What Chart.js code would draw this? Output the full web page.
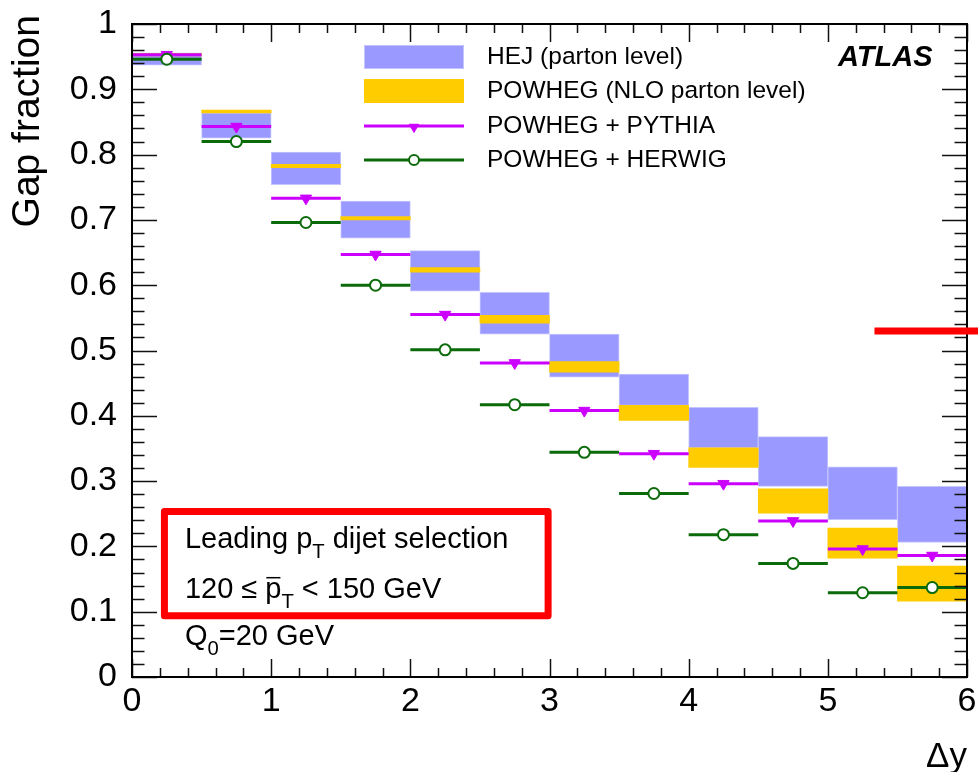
<!DOCTYPE html>
<html>
<head>
<meta charset="utf-8">
<script src="https://cdn.jsdelivr.net/npm/chart.js@4.4.1/dist/chart.umd.min.js"></script>
<style>
  html, body { margin: 0; padding: 0; background: #fff; }
</style>
</head>
<body>
<canvas id="gapChart" width="978" height="772"></canvas>
<script>
// bins in delta y
const binLow  = [0, 0.5, 1, 1.5, 2, 2.5, 3, 3.5, 4, 4.5, 5, 5.5];
const binHigh = [0.5, 1, 1.5, 2, 2.5, 3, 3.5, 4, 4.5, 5, 5.5, 6];

// HEJ (parton level) band
const hejLow  = [0.937, 0.825, 0.754, 0.672, 0.591, 0.525, 0.459, 0.416, 0.351, 0.292, 0.241, 0.206];
const hejHigh = [0.956, 0.864, 0.804, 0.729, 0.653, 0.589, 0.525, 0.464, 0.413, 0.368, 0.322, 0.292];

// POWHEG (NLO parton level) band
const powLow  = [0.951, 0.864, 0.780, 0.700, 0.620, 0.542, 0.467, 0.393, 0.321, 0.251, 0.182, 0.116];
const powHigh = [0.955, 0.868, 0.785, 0.705, 0.627, 0.554, 0.483, 0.416, 0.351, 0.288, 0.228, 0.170];

// showered predictions
const pythia = [0.953, 0.843, 0.733, 0.647, 0.555, 0.481, 0.408, 0.342, 0.296, 0.239, 0.196, 0.186];
const herwig = [0.946, 0.820, 0.696, 0.600, 0.501, 0.417, 0.344, 0.281, 0.218, 0.174, 0.129, 0.137];

const xTicks = [0, 1, 2, 3, 4, 5, 6];
const yTicks = [0, 0.1, 0.2, 0.3, 0.4, 0.5, 0.6, 0.7, 0.8, 0.9, 1];

const FONT = '"Liberation Sans", Arial, Helvetica, sans-serif';
const HEJ_COL = '#9999ff';
const POW_COL = '#ffcc00';
const PYT_COL = '#cc00ff';
const HER_COL = '#0b6b0b';

function bandData(lo, hi) {
  return binLow.map((b, i) => ({ x: (b + binHigh[i]) / 2, y: [lo[i], hi[i]] }));
}

// horizontal segment across each bin, marker in the middle, gap between bins
function stepData(vals) {
  const pts = [];
  vals.forEach((v, i) => {
    const c = (binLow[i] + binHigh[i]) / 2;
    pts.push({ x: binLow[i], y: v }, { x: c, y: v }, { x: binHigh[i], y: v }, { x: binHigh[i], y: null });
  });
  return pts;
}

const midOnly = r => ctx => (ctx.dataIndex % 4 === 1 ? r : 0);

// draws text pieces, some as subscripts or with an overbar
function richText(ctx, parts, x, y, size) {
  let cx = x;
  parts.forEach(p => {
    const s = p.sub ? size * 0.7 : size;
    ctx.font = s + 'px ' + FONT;
    const dy = p.sub ? size * 0.33 : 0;
    ctx.fillText(p.t, cx, y + dy);
    const w = ctx.measureText(p.t).width;
    if (p.bar) {
      ctx.save();
      ctx.lineWidth = 1.5;
      ctx.beginPath();
      ctx.moveTo(cx + 1, y - size * 0.7);
      ctx.lineTo(cx + w - 1, y - size * 0.7);
      ctx.stroke();
      ctx.restore();
    }
    cx += w;
  });
}

const decorations = {
  id: 'decorations',
  afterDatasetsDraw(chart) {
    const { ctx, chartArea: a, scales: { x, y } } = chart;
    ctx.save();

    // inside ticks on all four sides
    ctx.strokeStyle = '#111';
    ctx.lineWidth = 1.5;
    ctx.beginPath();
    for (let i = 0; i <= 30; i++) {
      const px = Math.round(x.getPixelForValue(i * 0.2)) + 0.5;
      const len = i % 5 === 0 ? 18 : 9;
      ctx.moveTo(px, a.bottom); ctx.lineTo(px, a.bottom - len);
      ctx.moveTo(px, a.top); ctx.lineTo(px, a.top + len);
    }
    for (let i = 0; i <= 50; i++) {
      const py = Math.round(y.getPixelForValue(i * 0.02)) + 0.5;
      const len = i % 5 === 0 ? 25 : 12.5;
      ctx.moveTo(a.left, py); ctx.lineTo(a.left + len, py);
      ctx.moveTo(a.right, py); ctx.lineTo(a.right - len, py);
    }
    ctx.stroke();

    // frame
    ctx.strokeStyle = '#000';
    ctx.lineWidth = 2;
    ctx.strokeRect(a.left, a.top, a.right - a.left, a.bottom - a.top);

    // red annotation box and red mark
    ctx.strokeStyle = '#ff0000';
    ctx.lineWidth = 7;
    ctx.lineJoin = 'round';
    const bx0 = x.getPixelForValue(0.233), bx1 = x.getPixelForValue(2.99);
    const by0 = y.getPixelForValue(0.2536), by1 = y.getPixelForValue(0.0937);
    ctx.strokeRect(bx0, by0, bx1 - bx0, by1 - by0);
    ctx.beginPath();
    ctx.moveTo(x.getPixelForValue(5.335), y.getPixelForValue(0.530));
    ctx.lineTo(chart.width, y.getPixelForValue(0.530));
    ctx.stroke();

    // selection text
    ctx.fillStyle = '#000';
    ctx.strokeStyle = '#000';
    ctx.textAlign = 'left';
    ctx.textBaseline = 'alphabetic';
    const tx = x.getPixelForValue(0.38);
    richText(ctx, [{ t: 'Leading p' }, { t: 'T', sub: true }, { t: ' dijet selection' }], tx, 548, 29);
    richText(ctx, [{ t: '120 \u2264 ' }, { t: 'p', bar: true }, { t: 'T', sub: true }, { t: ' < 150 GeV' }], tx, 598, 29);
    richText(ctx, [{ t: 'Q' }, { t: '0', sub: true }, { t: '=20 GeV' }], tx, 645, 29);

    // legend
    const lx0 = 364, lx1 = 464, lxc = 414, tX = 487;
    ctx.fillStyle = HEJ_COL;
    ctx.fillRect(lx0, 45, lx1 - lx0, 24);
    ctx.strokeStyle = '#c4c4ff';
    ctx.lineWidth = 1;
    ctx.strokeRect(lx0 + 0.5, 45.5, lx1 - lx0 - 1, 23);
    ctx.fillStyle = POW_COL;
    ctx.fillRect(lx0, 79, lx1 - lx0, 24);
    ctx.lineWidth = 3;
    ctx.strokeStyle = PYT_COL;
    ctx.beginPath(); ctx.moveTo(lx0, 126); ctx.lineTo(lx1, 126); ctx.stroke();
    ctx.fillStyle = PYT_COL;
    ctx.lineWidth = 1;
    Chart.helpers.drawPoint(ctx, { pointStyle: 'triangle', radius: 5.5, rotation: 180, borderWidth: 1 }, lxc, 127);
    ctx.strokeStyle = HER_COL;
    ctx.lineWidth = 3;
    ctx.beginPath(); ctx.moveTo(lx0, 160); ctx.lineTo(lx1, 160); ctx.stroke();
    ctx.fillStyle = '#fff';
    ctx.lineWidth = 2;
    Chart.helpers.drawPoint(ctx, { pointStyle: 'circle', radius: 5, rotation: 0, borderWidth: 2 }, lxc, 160);

    ctx.fillStyle = '#000';
    ctx.font = '24.5px ' + FONT;
    ctx.textBaseline = 'middle';
    ctx.fillText('HEJ (parton level)', tX, 57);
    ctx.fillText('POWHEG (NLO parton level)', tX, 91);
    ctx.fillText('POWHEG + PYTHIA', tX, 126);
    ctx.fillText('POWHEG + HERWIG', tX, 160);

    // ATLAS label
    ctx.textBaseline = 'alphabetic';
    ctx.font = 'italic bold 29px ' + FONT;
    ctx.fillText('ATLAS', 838, 66);

    // axis titles
    ctx.font = '35px ' + FONT;
    ctx.textAlign = 'right';
    ctx.fillText('\u0394y', a.right, 767);
    ctx.save();
    ctx.translate(39, 15);
    ctx.rotate(-Math.PI / 2);
    ctx.font = '39px ' + FONT;
    ctx.fillText('Gap fraction', 0, 0);
    ctx.restore();

    ctx.restore();
  }
};

new Chart(document.getElementById('gapChart'), {
  type: 'bar',
  data: {
    datasets: [
      {
        type: 'line', label: 'POWHEG + HERWIG', data: stepData(herwig), order: 1,
        borderColor: HER_COL, borderWidth: 3, spanGaps: false,
        pointStyle: 'circle', pointRadius: midOnly(5.5), pointBorderWidth: 2,
        pointBackgroundColor: '#fff', pointBorderColor: HER_COL
      },
      {
        type: 'line', label: 'POWHEG + PYTHIA', data: stepData(pythia), order: 2,
        borderColor: PYT_COL, borderWidth: 3, spanGaps: false,
        pointStyle: 'triangle', pointRotation: 180, pointRadius: midOnly(6.5), pointBorderWidth: 1,
        pointBackgroundColor: PYT_COL, pointBorderColor: PYT_COL
      },
      {
        label: 'POWHEG (NLO parton level)', data: bandData(powLow, powHigh), order: 3,
        backgroundColor: POW_COL, borderWidth: 0, grouped: false,
        barPercentage: 1, categoryPercentage: 1
      },
      {
        label: 'HEJ (parton level)', data: bandData(hejLow, hejHigh), order: 4,
        backgroundColor: HEJ_COL, borderColor: '#c4c4ff', borderWidth: 1, borderSkipped: false,
        grouped: false, barPercentage: 1, categoryPercentage: 1
      }
    ]
  },
  options: {
    responsive: false,
    animation: false,
    devicePixelRatio: 1,
    layout: { padding: { top: 20, right: 11, left: 0, bottom: 0 } },
    plugins: { legend: { display: false }, tooltip: { enabled: false } },
    scales: {
      x: {
        type: 'linear', min: 0, max: 6, offset: false,
        afterBuildTicks: s => { s.ticks = xTicks.map(v => ({ value: v })); },
        afterFit: s => { s.height = 95; },
        grid: { display: false }, border: { display: false },
        ticks: { color: '#000', padding: 0, maxRotation: 0, font: { family: FONT, size: 34, lineHeight: 1 } }
      },
      y: {
        type: 'linear', min: 0, max: 1,
        afterBuildTicks: s => { s.ticks = yTicks.map(v => ({ value: v })); },
        afterFit: s => { s.width = 132; },
        grid: { display: false }, border: { display: false },
        ticks: {
          color: '#000', padding: 7, font: { family: FONT, size: 34, lineHeight: 1 },
          callback: v => (v === 0 || v === 1 ? String(v) : v.toFixed(1))
        }
      }
    }
  },
  plugins: [decorations]
});
</script>
</body>
</html>
